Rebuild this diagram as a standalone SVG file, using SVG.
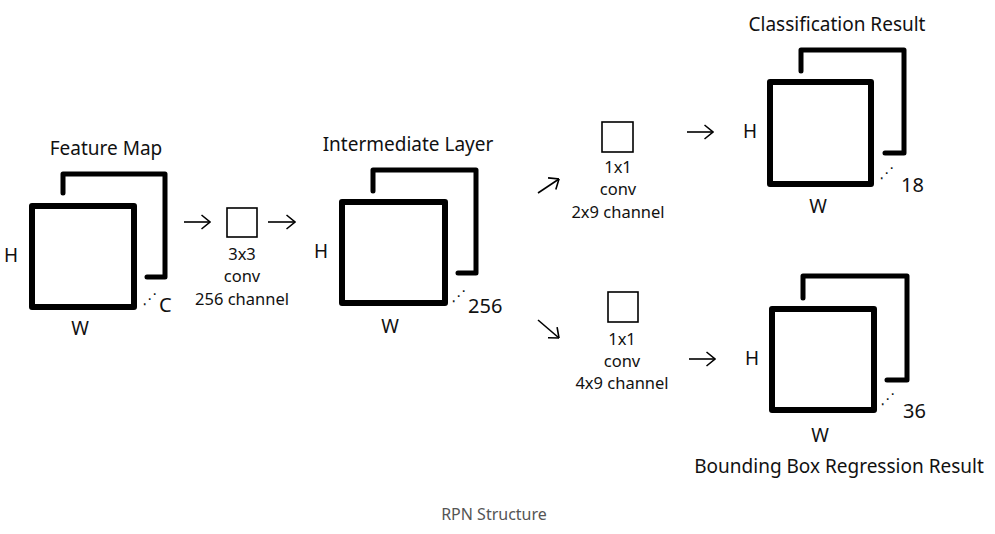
<svg xmlns="http://www.w3.org/2000/svg" width="995" height="534" viewBox="0 0 995 534">
<defs>
<style>
.t{font-family:"Noto Sans","Liberation Sans",sans-serif;fill:#111}
.ttl{font-size:19px}
.lbl{font-size:16.5px}
.dim{font-size:19px}
.num{font-size:20px}
.dots{font-family:"DejaVu Sans",sans-serif;font-size:15px;fill:#111}
.cap{font-family:"Noto Sans","Liberation Sans",sans-serif;font-size:16px;fill:#555}
.front{fill:none;stroke:#000;stroke-width:6;stroke-linejoin:round}
.back{fill:none;stroke:#000;stroke-width:5;stroke-linecap:round;stroke-linejoin:round}
.k{fill:none;stroke:#000;stroke-width:1.6}
.arr{fill:none;stroke:#000;stroke-width:1.6;marker-end:url(#ah)}
</style>
<marker id="ah" viewBox="0 0 10 16" refX="9.5" refY="8" markerWidth="10" markerHeight="16" markerUnits="userSpaceOnUse" orient="auto">
<path d="M1,1 L9.5,8 L1,15" fill="none" stroke="#000" stroke-width="1.6"/>
</marker>
</defs>
<rect width="995" height="534" fill="#fff"/>

<g id="feature-map">
<path class="back" d="M63,193 V174 H165 V277 H147"/>
<rect class="front" x="32" y="206" width="102" height="101"/>
<text class="t ttl" x="106" y="155" text-anchor="middle">Feature Map</text>
<text class="t dim" x="11" y="262" text-anchor="middle">H</text>
<text class="t dim" x="80" y="335" text-anchor="middle">W</text>
<text class="dots" x="142" y="304">⋰</text>
<text class="t num" x="159" y="312">C</text>
</g>

<g id="conv3x3">
<rect class="k" x="227" y="208" width="30" height="29"/>
<text class="t lbl" x="242" y="260" text-anchor="middle">3x3</text>
<text class="t lbl" x="242" y="282" text-anchor="middle">conv</text>
<text class="t lbl" x="242" y="305" text-anchor="middle">256 channel</text>
</g>

<g id="intermediate-layer">
<path class="back" d="M373,191 V170 H476 V273 H458"/>
<rect class="front" x="342" y="202" width="103" height="101"/>
<text class="t ttl" x="408" y="151" text-anchor="middle">Intermediate Layer</text>
<text class="t dim" x="321" y="258" text-anchor="middle">H</text>
<text class="t dim" x="390" y="333" text-anchor="middle">W</text>
<text class="dots" x="451" y="301">⋰</text>
<text class="t num" x="468" y="313">256</text>
</g>

<g id="conv1x1-cls">
<rect class="k" x="602" y="122" width="31" height="30"/>
<text class="t lbl" x="618" y="173" text-anchor="middle">1x1</text>
<text class="t lbl" x="618" y="195" text-anchor="middle">conv</text>
<text class="t lbl" x="618" y="218" text-anchor="middle">2x9 channel</text>
</g>

<g id="conv1x1-reg">
<rect class="k" x="608" y="292" width="30" height="30"/>
<text class="t lbl" x="622" y="345" text-anchor="middle">1x1</text>
<text class="t lbl" x="622" y="367" text-anchor="middle">conv</text>
<text class="t lbl" x="622" y="389" text-anchor="middle">4x9 channel</text>
</g>

<g id="classification-result">
<path class="back" d="M801,71 V50 H904 V153 H885"/>
<rect class="front" x="770" y="82" width="101" height="102"/>
<text class="t ttl" x="837" y="31" text-anchor="middle">Classification Result</text>
<text class="t dim" x="750" y="138" text-anchor="middle">H</text>
<text class="t dim" x="818" y="213" text-anchor="middle">W</text>
<text class="dots" x="879" y="178">⋰</text>
<text class="t num" x="901" y="192">18</text>
</g>

<g id="bbox-regression-result">
<path class="back" d="M803,298 V276 H907 V380 H887"/>
<rect class="front" x="772" y="309" width="102" height="101"/>
<text class="t ttl" x="839" y="473" text-anchor="middle">Bounding Box Regression Result</text>
<text class="t dim" x="752" y="365" text-anchor="middle">H</text>
<text class="t dim" x="820" y="442" text-anchor="middle">W</text>
<text class="dots" x="880" y="404">⋰</text>
<text class="t num" x="903" y="418">36</text>
</g>

<g id="connectors">
<path class="arr" d="M184,222 H210"/>
<path class="arr" d="M268,222 H295"/>
<path class="arr" d="M538,193 L559,179"/>
<path class="arr" d="M538,320 L559,338"/>
<path class="arr" d="M687,132 H713"/>
<path class="arr" d="M689,359 H715"/>
</g>

<text class="cap" x="494" y="520" text-anchor="middle">RPN Structure</text>
</svg>
